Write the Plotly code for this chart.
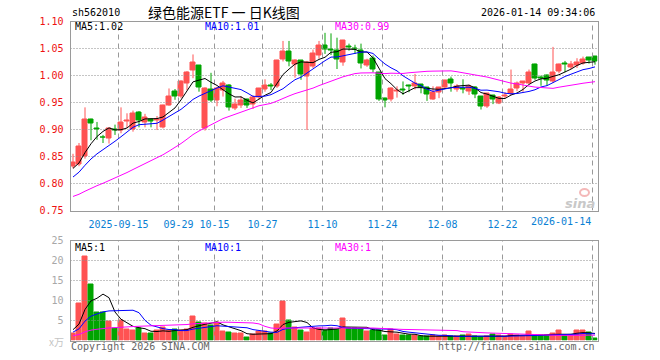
import numpy as np
import plotly.graph_objects as go

# ---------------- data ----------------
opens = [0.831, 0.836, 0.850, 0.919, 0.902, 0.886, 0.884, 0.900, 0.898, 0.914,
         0.900, 0.931, 0.913, 0.919, 0.916, 0.904, 0.945, 0.970, 0.961, 0.986,
         1.009, 1.018, 0.901, 0.974, 0.954, 0.973, 0.981, 0.939, 0.945, 0.955,
         0.947, 0.959, 0.975, 0.981, 0.979, 1.030, 1.045, 1.021, 1.027, 0.998,
         1.017, 1.037, 1.056, 1.048, 1.047, 1.024, 1.053, 1.050, 1.046, 1.019,
         1.032, 1.005, 0.958, 0.955, 0.970, 0.974, 0.981, 0.980, 0.983, 0.977,
         0.956, 0.969, 0.977, 0.992, 0.974, 0.976, 0.971, 0.977, 0.961, 0.943,
         0.963, 0.949, 0.962, 0.966, 0.976, 0.986, 0.986, 1.021, 0.996, 1.000,
         0.988, 1.008, 1.022, 1.015, 1.019, 1.023, 1.033, 1.035]
highs = [0.855, 0.875, 0.941, 0.920, 0.914, 0.890, 0.903, 0.909, 0.941, 0.930,
         0.935, 0.934, 0.929, 0.920, 0.925, 0.946, 0.976, 0.975, 0.991, 1.008,
         1.039, 1.019, 0.978, 1.005, 0.979, 0.990, 0.984, 0.957, 0.962, 0.957,
         0.963, 0.977, 0.993, 0.986, 1.029, 1.064, 1.064, 1.030, 1.028, 1.027,
         1.048, 1.064, 1.079, 1.078, 1.070, 1.066, 1.059, 1.057, 1.059, 1.031,
         1.037, 1.006, 0.959, 0.978, 0.980, 0.989, 0.983, 1.003, 0.984, 0.978,
         0.980, 0.978, 0.992, 0.998, 0.984, 0.993, 0.983, 0.980, 0.962, 0.967,
         0.964, 0.962, 0.969, 1.011, 0.989, 0.989, 1.011, 1.022, 1.000, 1.002,
         1.053, 1.022, 1.027, 1.027, 1.032, 1.035, 1.034, 1.036]
lows = [0.828, 0.832, 0.846, 0.880, 0.881, 0.875, 0.874, 0.890, 0.893, 0.903,
        0.896, 0.904, 0.904, 0.904, 0.899, 0.902, 0.944, 0.955, 0.958, 0.973,
        0.995, 0.970, 0.898, 0.951, 0.943, 0.961, 0.935, 0.936, 0.940, 0.940,
        0.938, 0.955, 0.970, 0.973, 0.977, 1.026, 1.017, 0.996, 0.992, 0.899,
        1.014, 1.031, 1.040, 1.038, 1.012, 1.018, 1.046, 1.040, 1.013, 1.016,
        1.006, 0.953, 0.941, 0.952, 0.959, 0.964, 0.969, 0.974, 0.967, 0.953,
        0.955, 0.958, 0.975, 0.970, 0.970, 0.967, 0.964, 0.958, 0.937, 0.940,
        0.947, 0.947, 0.958, 0.964, 0.971, 0.970, 0.985, 0.992, 0.981, 0.981,
        0.986, 1.004, 1.006, 1.012, 1.014, 1.020, 1.022, 1.020]
closes = [0.838, 0.868, 0.918, 0.911, 0.900, 0.885, 0.901, 0.899, 0.913, 0.916,
          0.930, 0.916, 0.923, 0.914, 0.918, 0.945, 0.962, 0.961, 0.988, 1.005,
          1.025, 0.978, 0.976, 0.953, 0.976, 0.985, 0.940, 0.947, 0.954, 0.945,
          0.960, 0.976, 0.982, 0.980, 1.027, 1.044, 1.026, 1.028, 1.001, 1.024,
          1.040, 1.056, 1.048, 1.047, 1.029, 1.065, 1.052, 1.049, 1.023, 1.028,
          1.011, 0.955, 0.954, 0.976, 0.973, 0.973, 0.980, 0.985, 0.977, 0.964,
          0.969, 0.977, 0.990, 0.986, 0.980, 0.975, 0.980, 0.964, 0.943, 0.966,
          0.955, 0.960, 0.963, 0.975, 0.985, 0.988, 1.006, 0.995, 0.995, 0.990,
          1.006, 1.021, 1.021, 1.021, 1.024, 1.029, 1.027, 1.026]
volumes = [1.7, 9.2, 20.9, 13.9, 7.1, 6.9, 4.7, 3.0, 4.9, 2.7,
           2.4, 3.0, 1.75, 1.7, 2.4, 3.2, 2.4, 2.7, 2.5, 2.8,
           6.1, 4.6, 4.3, 3.8, 4.5, 2.3, 1.9, 1.8, 1.8, 0.7,
           1.6, 2.2, 2.3, 1.7, 4.1, 9.7, 4.9, 3.3, 2.5, 2.1,
           3.0, 3.0, 2.6, 3.0, 2.8, 5.5, 3.0, 3.0, 2.8, 2.2,
           2.5, 2.4, 1.3, 2.7, 1.5, 1.2, 1.2, 1.2, 0.9, 0.9,
           1.2, 0.9, 1.2, 0.9, 0.9, 1.2, 1.5, 0.9, 0.7, 0.9,
           1.5, 1.2, 1.0, 1.6, 1.2, 0.9, 2.2, 1.2, 1.2, 1.2,
           1.8, 2.4, 1.2, 1.2, 2.5, 2.5, 2.1, 0.5]
# sessions before the first visible candle (only feed the moving averages)
pre_closes = [0.745, 0.750, 0.748, 0.755, 0.752, 0.758, 0.756, 0.761,
              0.757, 0.762, 0.755, 0.760, 0.764, 0.758, 0.757, 0.763, 0.762, 0.765,
              0.762, 0.770, 0.778, 0.790, 0.795, 0.805, 0.812,
              0.818, 0.822, 0.829, 0.833]
pre_volumes = [0.6, 0.7, 0.8, 0.6, 0.7, 0.9, 0.8, 0.7, 0.6, 0.8,
               0.7, 0.8, 0.9, 0.7, 0.8, 0.7, 0.8, 0.9, 0.8, 0.7,
               1.2, 1.4, 1.5, 1.6, 1.8, 2.2, 2.6, 3.2, 3.8]

tick_idx = [8, 18, 24, 32, 42, 52, 62, 72, 87]
tick_labels = ["2025-09-15", "09-29", "10-15", "10-27", "11-10",
               "11-24", "12-08", "12-22", "2026-01-14"]
price_ticks = [0.75, 0.80, 0.85, 0.90, 0.95, 1.00, 1.05, 1.10]
vol_ticks = [5, 10, 15, 20, 25]
price_ma_labels = ["MA5:1.02", "MA10:1.01", "MA30:0.99"]
vol_ma_labels = ["MA5:1", "MA10:1", "MA30:1"]

code = "sh562010"
title = "绿色能源ETF\u00a0一\u00a0日K线图"
stamp = "2026-01-14 09:34:06"

# ---------------- helpers ----------------
W, H = 660, 360
N = len(closes)
idx = list(range(N))

def px(x):
    return x / W

def py(y):
    return 1 - y / H

def moving(pre, vals, n):
    full = np.array(list(pre) + list(vals), dtype=float)
    off = len(pre)
    return [full[off + i - n + 1: off + i + 1].mean() for i in range(N)]

RED = "#ff5252"
GREEN = "#00a400"
up = [c >= o for o, c in zip(opens, closes)]
colors = [RED if u else GREEN for u in up]

# panel geometry in pixels (edges on half pixels so 1px lines stay crisp)
X0, X1 = 70.5, 597.5
STEP = 6.0                       # pixels per session
r0 = -2.5 / STEP                 # candle i centred 2.5px right of its grid slot
xr = [r0, r0 + (X1 - X0) / STEP]
grid_x = [i + r0 for i in tick_idx]
P_TOP, P_BOT = 21.5, 210.5       # price panel
V_TOP, V_BOT = 240.5, 340.5      # volume panel
P_RANGE = [0.75, 1.10]
V_RANGE = [0, 25]

MONO = "DejaVu Sans Mono"
XCOL = "#0a7fd4"
VGRID = "#999999"
HGRID = "#8a8a8a"
BORDER = "#9a9a9a"

fig = go.Figure()

# ---- grid lines, drawn first so every mark sits on top of them ----
def grid_traces(xa, ya, yrange, hvals):
    gx, gy = [], []
    for g in grid_x:
        gx += [g, g, None]
        gy += [yrange[0], yrange[1], None]
    fig.add_trace(go.Scatter(x=gx, y=gy, mode="lines",
                             line=dict(color=VGRID, width=1, dash="5px,4px"),
                             xaxis=xa, yaxis=ya, showlegend=False,
                             hoverinfo="skip"))
    hx, hy = [], []
    for v in hvals:
        hx += [xr[0], xr[1], None]
        hy += [v, v, None]
    fig.add_trace(go.Scatter(x=hx, y=hy, mode="lines",
                             line=dict(color=HGRID, width=1, dash="1px,2px"),
                             xaxis=xa, yaxis=ya, showlegend=False,
                             hoverinfo="skip"))

grid_traces("x", "y", P_RANGE, price_ticks[1:-1])
grid_traces("x2", "y2", V_RANGE, vol_ticks[:-1])

# candle bodies
fig.add_trace(go.Bar(
    x=idx, y=[c - o for o, c in zip(opens, closes)], base=opens,
    width=0.68, marker=dict(color=colors, line=dict(color=colors, width=1)),
    xaxis="x", yaxis="y", showlegend=False, hoverinfo="skip"))

# wicks
for flag, col in ((True, RED), (False, GREEN)):
    wx, wy = [], []
    for i in idx:
        if up[i] == flag:
            wx += [i, i, None]
            wy += [lows[i], highs[i], None]
    fig.add_trace(go.Scatter(x=wx, y=wy, mode="lines",
                             line=dict(color=col, width=1),
                             xaxis="x", yaxis="y", showlegend=False,
                             hoverinfo="skip"))

ma_cols = ["#000000", "#0000ff", "#ff00ff"]
for n, col in zip((5, 10, 30), ma_cols):
    fig.add_trace(go.Scatter(x=idx, y=moving(pre_closes, closes, n), mode="lines",
                             line=dict(color=col, width=1),
                             xaxis="x", yaxis="y", showlegend=False,
                             hoverinfo="skip"))

# volume
fig.add_trace(go.Bar(
    x=idx, y=volumes, width=0.68,
    marker=dict(color=colors, line=dict(color=colors, width=1)),
    xaxis="x2", yaxis="y2", showlegend=False, hoverinfo="skip"))
for n, col in zip((5, 10, 30), ma_cols):
    fig.add_trace(go.Scatter(x=idx, y=moving(pre_volumes, volumes, n), mode="lines",
                             line=dict(color=col, width=1),
                             xaxis="x2", yaxis="y2", showlegend=False,
                             hoverinfo="skip"))

common_x = dict(range=xr, domain=[px(X0), px(X1)], showline=True, mirror=True,
                linecolor=BORDER, linewidth=1, zeroline=False, automargin=False,
                tickmode="array", tickvals=grid_x, ticks="", showgrid=False)

# last date label is drawn right-aligned to its grid line (as in the original)
shown_labels = tick_labels[:-1] + [""]

fig.update_layout(
    width=W, height=H, autosize=False,
    margin=dict(l=0, r=0, t=0, b=0, pad=0, autoexpand=False),
    paper_bgcolor="white", plot_bgcolor="white",
    barmode="overlay", bargap=0, showlegend=False,
    xaxis=dict(**common_x, ticktext=shown_labels, anchor="y",
               ticklabelstandoff=4,
               tickfont=dict(family=MONO, size=10, color=XCOL)),
    xaxis2=dict(**common_x, ticktext=["" for _ in tick_labels], anchor="y2",
                showticklabels=False, matches="x"),
    yaxis=dict(domain=[py(P_BOT), py(P_TOP)], range=P_RANGE, anchor="x",
               tickmode="array", tickvals=price_ticks,
               ticktext=[f"{v:.2f}" for v in price_ticks],
               tickfont=dict(family=MONO, size=10, color="#ee1111"),
               showline=True, mirror=True, linecolor=BORDER, linewidth=1,
               showgrid=False, zeroline=False,
               ticks="", ticklabelstandoff=4, automargin=False),
    yaxis2=dict(domain=[py(V_BOT), py(V_TOP)], range=V_RANGE, anchor="x2",
                tickmode="array", tickvals=vol_ticks,
                ticktext=[str(v) for v in vol_ticks],
                tickfont=dict(family=MONO, size=10, color="#a8a8a8"),
                showline=True, mirror=True, linecolor=BORDER, linewidth=1,
                showgrid=False, zeroline=False,
                ticks="", ticklabelstandoff=4, automargin=False),
)

fig.add_shape(type="circle", xref="paper", yref="paper",
              x0=px(580), x1=px(589), y0=py(196), y1=py(189),
              line=dict(color="#f4b8b8", width=2))

ann = []
def text(x, y, s, color="#000", size=10, family=MONO, xanchor="left", **kw):
    ann.append(dict(x=px(x), y=py(y), xref="paper", yref="paper", text=s,
                    showarrow=False, xanchor=xanchor, yanchor="middle",
                    font=dict(family=family, size=size, color=color), **kw))

text(70, 13, code, size=10)
text(224, 12, title, size=14, family="Noto Sans CJK SC", xanchor="center", height=16)
text(597, 13, stamp, size=10, xanchor="right")
for lab, col, x in zip(price_ma_labels, ma_cols, (73, 203, 333)):
    text(x, 27, lab, color=col)
for lab, col, x in zip(vol_ma_labels, ma_cols, (73, 203, 333)):
    text(x, 247, lab, color=col)
# last date tick label, ending at its grid line
ann.append(dict(x=grid_x[-1], y=py(221.5), xref="x", yref="paper",
                text=tick_labels[-1], showarrow=False, xanchor="right",
                yanchor="middle", font=dict(family=MONO, size=10, color=XCOL)))
text(66, 341, "x万", color="#c4c4c4", size=10, family="Noto Sans CJK SC", xanchor="right")
text(69, 346.5, "Copyright 2026 SINA.COM", color="#666666", size=10)
text(597, 346.5, "http://finance.sina.com.cn", color="#666666", size=10, xanchor="right")
text(597, 203, "<i><b>sina</b></i>", color="#c8c8c8", size=13, family="Verdana, DejaVu Sans",
     xanchor="right")
fig.update_layout(annotations=ann)

fig.write_html("out.html", config={"displayModeBar": False, "responsive": False})
